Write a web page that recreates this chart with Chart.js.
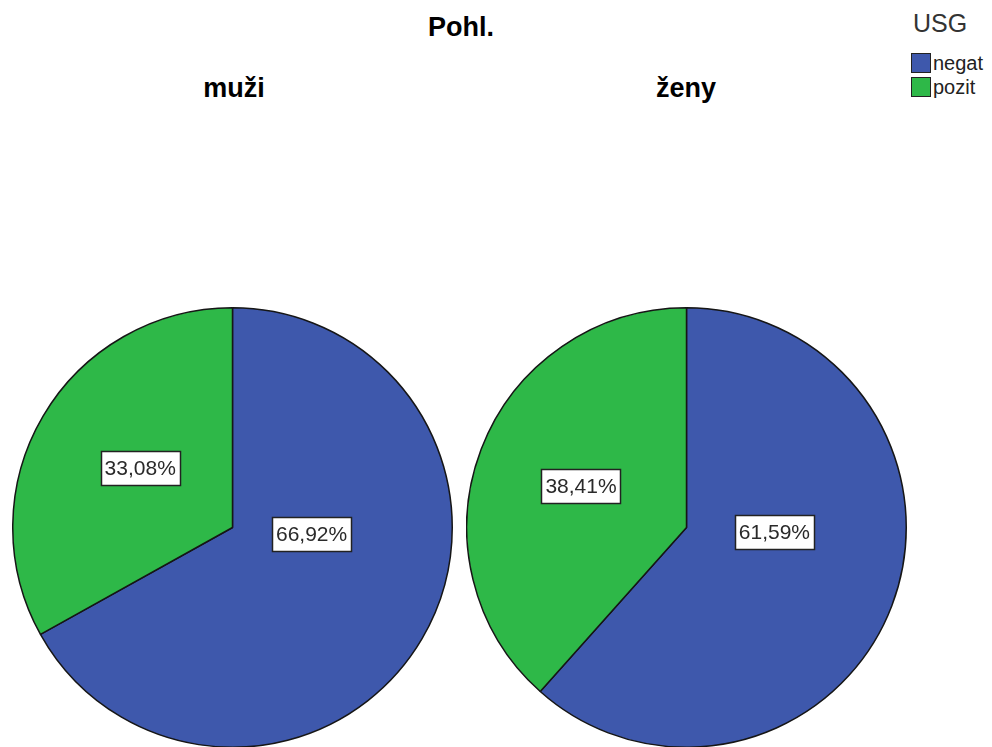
<!DOCTYPE html>
<html>
<head>
<meta charset="utf-8">
<script src="https://cdn.jsdelivr.net/npm/chart.js@4/dist/chart.umd.min.js"></script>
<style>
  html, body { margin: 0; padding: 0; background: #fff; overflow: hidden; }
  #wrap { position: relative; width: 992px; height: 747px; font-family: "Liberation Sans", Arial, sans-serif; color: #000; }
  .title { position: absolute; font-weight: bold; font-size: 27px; transform: translateX(-50%); white-space: nowrap; }
  canvas { position: absolute; }
  #legend { position: absolute; left: 911px; top: 9px; font-size: 20px; color: #222; }
  #legend .head { font-size: 25px; margin-left: 2px; margin-bottom: 13px; color: #333; line-height: 29px; }
  #legend .row { display: flex; align-items: center; height: 24px; }
  #legend .sw { width: 18px; height: 18px; border: 1px solid #222; margin-right: 2px; }
</style>
</head>
<body>
<div id="wrap">
  <div class="title" style="left:461px; top:12px;">Pohl.</div>
  <div class="title" style="left:234px; top:73px;">muži</div>
  <div class="title" style="left:686px; top:73px;">ženy</div>
  <div id="legend"><div class="head">USG</div></div>
  <canvas id="pie-muzi" width="441" height="441" style="left:12px; top:307px;"></canvas>
  <canvas id="pie-zeny" width="441" height="441" style="left:466px; top:307px;"></canvas>
</div>
<script>
// Colors
var negatColor = "#3E58AC";
var pozitColor = "#2EB848";
var edgeColor = "#161616";

// Data (percent of each group)
var usgLabels = ['negat', 'pozit'];
var muziValues = [66.92, 33.08];
var zenyValues = [61.59, 38.41];

// Legend
var legend = document.getElementById('legend');
usgLabels.forEach(function (label, i) {
  var row = document.createElement('div');
  row.className = 'row';
  var sw = document.createElement('div');
  sw.className = 'sw';
  sw.style.background = [negatColor, pozitColor][i];
  row.appendChild(sw);
  row.appendChild(document.createTextNode(label));
  legend.appendChild(row);
});

// Boxed percent labels, placed relative to the pie centre in radius units
var boxLabels = {
  id: 'boxLabels',
  afterDatasetsDraw: function (chart, args, opts) {
    var ctx = chart.ctx;
    var meta = chart.getDatasetMeta(0);
    var values = chart.data.datasets[0].data;
    var total = values.reduce(function (a, b) { return a + b; }, 0);
    ctx.save();
    ctx.font = '21px "Liberation Sans", Arial, sans-serif';
    ctx.textAlign = 'center';
    ctx.textBaseline = 'middle';
    meta.data.forEach(function (arc, i) {
      var r = arc.outerRadius;
      var x = arc.x + opts.spots[i][0] * r;
      var y = arc.y + opts.spots[i][1] * r;
      var text = (values[i] / total * 100).toFixed(2).replace('.', ',') + '%';
      var w = ctx.measureText(text).width + 8;
      var h = 34;
      ctx.fillStyle = '#fff';
      ctx.fillRect(Math.round(x - w / 2) + 0.5, Math.round(y - h / 2) + 0.5, Math.round(w), h);
      ctx.strokeStyle = '#222';
      ctx.lineWidth = 1.5;
      ctx.strokeRect(Math.round(x - w / 2) + 0.5, Math.round(y - h / 2) + 0.5, Math.round(w), h);
      ctx.fillStyle = '#2a2a2a';
      ctx.fillText(text, x, y + 1);
    });
    ctx.restore();
  }
};

function makePie(canvas, values, spots) {
  return new Chart(canvas, {
    type: 'pie',
    plugins: [boxLabels],
    data: {
      labels: usgLabels,
      datasets: [
        {
          data: values,
          backgroundColor: [negatColor, pozitColor],
          borderColor: edgeColor,
          borderWidth: 1.5,
          borderAlign: 'center'
        }
      ]
    },
    options: {
      responsive: false,
      animation: false,
      layout: { padding: 0 },
      plugins: {
        legend: { display: false },
        tooltip: { enabled: false },
        boxLabels: { spots: spots }
      }
    }
  });
}

var muziPie = makePie(document.getElementById('pie-muzi'), muziValues, [[0.36, 0.03], [-0.42, -0.27]]);
var zenyPie = makePie(document.getElementById('pie-zeny'), zenyValues, [[0.40, 0.02], [-0.48, -0.19]]);
</script>
</body>
</html>
